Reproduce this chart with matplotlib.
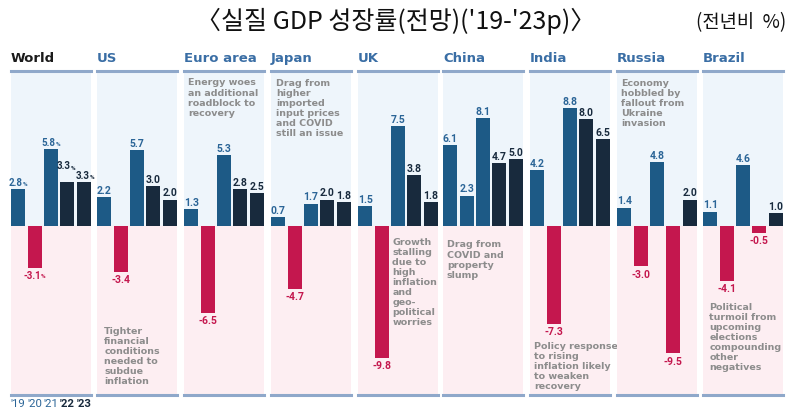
import numpy as np
import matplotlib
matplotlib.use("Agg")
import matplotlib.pyplot as plt

regions = ["World", "US", "Euro area", "Japan", "UK", "China", "India", "Russia", "Brazil"]
years = ["'19", "'20", "'21", "'22", "'23"]
world = [2.8, -3.1, 5.8, 3.3, 3.3]
us = [2.2, -3.4, 5.7, 3.0, 2.0]
euro = [1.3, -6.5, 5.3, 2.8, 2.5]
japan = [0.7, -4.7, 1.7, 2.0, 1.8]
uk = [1.5, -9.8, 7.5, 3.8, 1.8]
china = [6.1, 2.3, 8.1, 4.7, 5.0]
india = [4.2, -7.3, 8.8, 8.0, 6.5]
russia = [1.4, -3.0, 4.8, -9.5, 2.0]
brazil = [1.1, -4.1, 4.6, -0.5, 1.0]
notes = {
    "Euro area": "Energy woes\nan additional\nroadblock to\nrecovery",
    "Japan": "Drag from\nhigher\nimported\ninput prices\nand COVID\nstill an issue",
    "Russia": "Economy\nhobbled by\nfallout from\nUkraine\ninvasion",
    "US": "Tighter\nfinancial\nconditions\nneeded to\nsubdue\ninflation",
    "UK": "Growth\nstalling\ndue to\nhigh\ninflation\nand\ngeo-\npolitical\nworries",
    "China": "Drag from\nCOVID and\nproperty\nslump",
    "India": "Policy response\nto rising\ninflation likely\nto weaken\nrecovery",
    "Brazil": "Political\nturmoil from\nupcoming\nelections\ncompounding\nother\nnegatives",
}
title = "〈실질 GDP 성장률(전망)('19-'23p)〉"
unit = "(전년비  %)"

series = [world, us, euro, japan, uk, china, india, russia, brazil]

# colours
BLUE = "#1d5a86"
NAVY = "#182a3d"
RED = "#c4174e"
LBLUE = "#2b6597"
NOTE = "#8c8c8c"
LINE = "#8fa8ca"
BG_UP = "#eef5fb"
BG_DN = "#fdeef2"
NUM = ["Roboto", "DejaVu Sans"]

# note anchor (axes fraction), top-left
note_pos = {
    "Euro area": (0.05, 0.98), "Japan": (0.06, 0.978), "Russia": (0.05, 0.978),
    "US": (0.09, 0.214), "UK": (0.43, 0.488), "China": (0.05, 0.48),
    "India": (0.05, 0.168), "Brazil": (0.08, 0.287),
}
# the two World '22/'23 labels are staggered in the original
world_nudge = {3: (-1, 7), 4: (1.5, 0)}

W, H = 799, 414
fig = plt.figure(figsize=(W / 100, H / 100), dpi=100)

lefts = [11, 97, 184, 271, 358, 443, 530, 617, 703]
top_px, bot_px, pw = 72, 396, 80
ymin, ymax = -12.6, 11.6
x = np.arange(5)

for i, (name, vals) in enumerate(zip(regions, series)):
    ax = fig.add_axes([lefts[i] / W, (H - bot_px) / H, pw / W, (bot_px - top_px) / H])
    ax.set_xlim(-0.44, 4.44)
    ax.set_ylim(ymin, ymax)
    ax.axhspan(0, ymax, color=BG_UP, zorder=0)
    ax.axhspan(ymin, 0, color=BG_DN, zorder=0)
    ax.axhline(ymax, color=LINE, lw=2.2, zorder=3, clip_on=False)
    ax.axhline(ymin, color=LINE, lw=2.2, zorder=3, clip_on=False)

    cols = []
    for j, v in enumerate(vals):
        if v < 0:
            cols.append(RED)
        elif j < 3:
            cols.append(BLUE)
        else:
            cols.append(NAVY)
    ax.bar(x, vals, width=0.86, color=cols, zorder=2)

    is_world = name == "World"
    fs = 7 if is_world else 7.5
    for j, v in enumerate(vals):
        txt = f"{v:.1f}"
        nx0, ny0 = world_nudge.get(j, (0, 0)) if is_world else (0, 0)
        shift = (-2 if is_world else 0) + nx0
        if v >= 0:
            c = LBLUE if j < 3 else NAVY
            ax.annotate(txt, (j, v), xytext=(shift, 1.5 + ny0), textcoords="offset points",
                        ha="center", va="bottom", fontsize=fs, fontweight="bold",
                        family=NUM, color=c, zorder=4)
        else:
            c = RED
            ax.annotate(txt, (j, v), xytext=(shift, -1.5), textcoords="offset points",
                        ha="center", va="top", fontsize=fs, fontweight="bold",
                        family=NUM, color=c, zorder=4)
        if is_world:
            # small percent sign after the number
            dy = (2.0 + ny0) if v >= 0 else -3.8
            dx = (3.1 + nx0) if v >= 0 else 4.6
            ax.annotate("%", (j, v), xytext=(dx, dy), textcoords="offset points",
                        ha="left", va="bottom" if v >= 0 else "top", fontsize=4.6,
                        fontweight="bold", family=NUM, color=c, zorder=4)

    ax.text(0, 1.031, name, transform=ax.transAxes, ha="left", va="baseline",
            fontsize=9.5, fontweight="bold",
            color="#1b1b1b" if is_world else "#3a6ea5")

    if name in notes:
        nx, ny = note_pos[name]
        ax.text(nx, ny, notes[name], transform=ax.transAxes, ha="left", va="top",
                fontsize=6.8, fontweight="bold", color=NOTE, linespacing=1.15, zorder=4)

    if is_world:
        for j, yr in enumerate(years):
            ax.text(j, -0.01, yr, transform=ax.get_xaxis_transform(), ha="center",
                    va="top", fontsize=8.2, family=NUM,
                    fontweight="bold" if j >= 3 else "normal",
                    color=NAVY if j >= 3 else LBLUE)

    ax.axis("off")

cjk = ["Noto Sans CJK KR", "DejaVu Sans"]
fig.text(396 / W, 1 - 21 / H, title, ha="center", va="center", fontsize=18,
         family=cjk, color="#111111")
fig.text(786 / W, 1 - 23 / H, unit, ha="right", va="center", fontsize=13.5,
         family=cjk, color="#111111")

fig.savefig("out.png", dpi=100, facecolor="white")
